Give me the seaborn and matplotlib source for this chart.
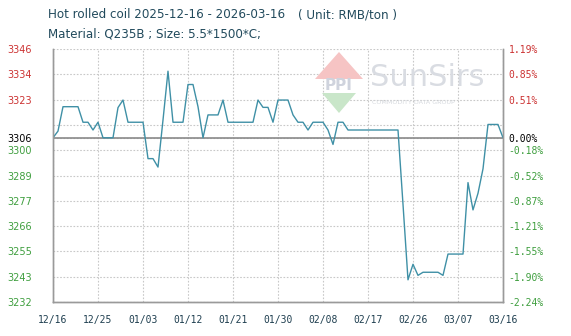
import numpy as np
import pandas as pd
import matplotlib
matplotlib.use('Agg')
import matplotlib.pyplot as plt
import seaborn as sns
from matplotlib.patches import Polygon

# ---------------- data ----------------
start_date = '2025-12-16'
prices = [
    3306, 3309, 3320, 3320, 3320, 3320, 3313, 3313, 3309.5, 3313,
    3306, 3306, 3306, 3319.6, 3323, 3313, 3313, 3313, 3313, 3296.6,
    3296.6, 3292.8, 3314, 3336, 3313, 3313, 3313, 3330, 3330, 3320,
    3306, 3316.3, 3316.3, 3316.3, 3323, 3313, 3313, 3313, 3313, 3313,
    3313, 3323, 3319.7, 3319.7, 3313, 3323, 3323, 3323, 3316.3, 3313,
    3313, 3309.5, 3313, 3313, 3313, 3309.5, 3303, 3313, 3313, 3309.5,
    3309.5, 3309.5, 3309.5, 3309.5, 3309.5, 3309.5, 3309.5, 3309.5, 3309.5, 3309.5,
    3276, 3242, 3249, 3244, 3245.4, 3245.4, 3245.4, 3245.4, 3244, 3253.6,
    3253.6, 3253.6, 3253.6, 3285.8, 3273.5, 3281, 3292, 3312, 3312, 3312,
    3306,
]
base_price = 3306
base_pct_label = '0.00%'
left_labels = ['3346', '3334', '3323', '', '3300', '3289', '3277', '3266', '3255', '3243', '3232']
right_labels = ['1.19%', '0.85%', '0.51%', '', '-0.18%', '-0.52%', '-0.87%', '-1.21%',
                '-1.55%', '-1.90%', '-2.24%']
x_labels = ['12/16', '12/25', '01/03', '01/12', '01/21', '01/30', '02/08', '02/17',
            '02/26', '03/07', '03/16']
y_min, y_max = 3232, 3346
title_main = 'Hot rolled coil 2025-12-16 - 2026-03-16'
title_unit = '( Unit: RMB/ton )'
subtitle = 'Material: Q235B ; Size: 5.5*1500*C;'

# ---------------- figure ----------------
sns.set_style('white')
W, H = 571, 336
fig = plt.figure(figsize=(W / 100, H / 100), dpi=100)
ax = fig.add_axes([53 / W, 1 - 302 / H, 450 / W, 253 / H])

dates = pd.date_range(start_date, periods=len(prices), freq='D')
df = pd.DataFrame({'date': dates, 'price': prices})

RED = '#cc3333'
GREEN = '#3e9e3e'
LINE = '#3f90a6'
GRID = '#c8c8c8'

# watermark (behind everything)
wm = dict(transform=None)
def fx(x): return x / W
def fy(y): return 1 - y / H
fig.patches.append(Polygon([(fx(315), fy(79)), (fx(339), fy(52)), (fx(363), fy(79))],
                           closed=True, transform=fig.transFigure, facecolor='#f6c4c4',
                           edgecolor='none', zorder=0))
fig.patches.append(Polygon([(fx(322), fy(93)), (fx(356), fy(93)), (fx(339), fy(113))],
                           closed=True, transform=fig.transFigure, facecolor='#c9e6c9',
                           edgecolor='none', zorder=0))
fig.text(fx(339), fy(86), 'PPI', ha='center', va='center', fontsize=11, fontweight='bold',
         color='#cfd3dd', zorder=0)
fig.text(fx(370), fy(77), 'SunSirs', ha='left', va='center', fontsize=22,
         color='#d9dce2', family='DejaVu Sans', zorder=0)
fig.text(fx(372), fy(102), 'COMMODITY DATA GROUP', ha='left', va='center', fontsize=4.6,
         color='#d6d9de', zorder=0)
ax.set_facecolor('none')

sns.lineplot(data=df, x='date', y='price', ax=ax, color=LINE, linewidth=1.0, zorder=3)
ax.axhline(base_price, color='#8a8a8a', linewidth=1.2, zorder=2)

ax.set_xlim(dates[0], dates[-1])
ax.set_ylim(y_min, y_max)

grid_vals = np.linspace(y_min, y_max, len(left_labels))[::-1]
yt = list(grid_vals) + [base_price]
ax.set_yticks(yt, left_labels + [str(base_price)])
ax.set_xticks(dates[::9], x_labels)
ax.grid(True, color=GRID, linestyle=(0, (1.5, 1.5)), linewidth=0.8)
ax.set_xlabel('')
ax.set_ylabel('')

for lab, v in zip(ax.get_yticklabels(), yt):
    lab.set_fontsize(7)
    lab.set_family('DejaVu Sans')
    lab.set_color(RED if v > base_price + 0.5 else ('black' if abs(v - base_price) < 0.5 else GREEN))
ax.tick_params(axis='y', length=0, pad=15)
ax.tick_params(axis='x', length=0, pad=9, labelsize=7, labelcolor='#1f3f50')
for lab in ax.get_xticklabels():
    lab.set_family('DejaVu Sans Mono')

ax2 = ax.twinx()
ax2.set_ylim(y_min, y_max)
ax2.set_yticks(yt, right_labels + [base_pct_label])
for lab, v in zip(ax2.get_yticklabels(), yt):
    lab.set_fontsize(7)
    lab.set_family('DejaVu Sans Mono')
    lab.set_color(RED if v > base_price + 0.5 else ('black' if abs(v - base_price) < 0.5 else GREEN))
ax2.tick_params(axis='y', length=0, pad=4)
ax2.grid(False)

for a in (ax, ax2):
    for s in ['left', 'right', 'bottom']:
        a.spines[s].set_color('#9a9a9a')
        a.spines[s].set_linewidth(1.0)
    a.spines['top'].set_visible(False)

fig.text(fx(48), fy(15), title_main, ha='left', va='center', fontsize=8.6,
         color='#214a5c', family='DejaVu Sans')
fig.text(fx(298), fy(15), title_unit, ha='left', va='center', fontsize=8.6,
         color='#214a5c', family='DejaVu Sans')
fig.text(fx(48), fy(34), subtitle, ha='left', va='center', fontsize=8.6,
         color='#214a5c', family='DejaVu Sans')

fig.savefig('out.png', dpi=100, facecolor='white')
